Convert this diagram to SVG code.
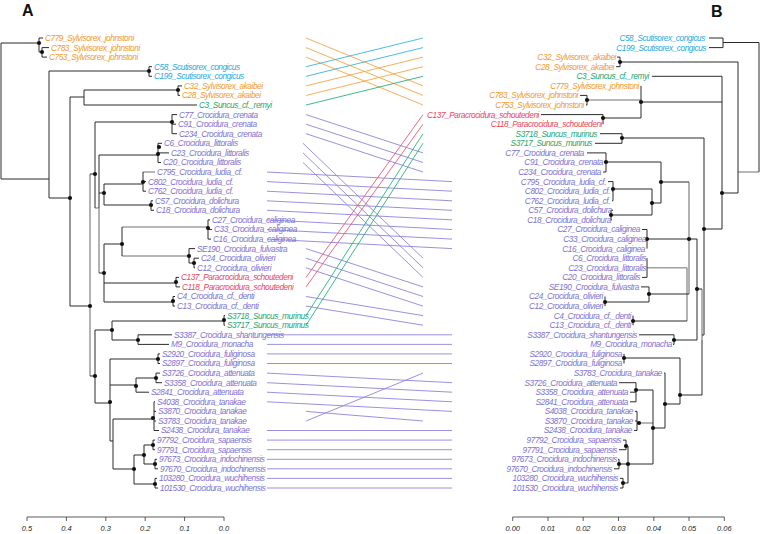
<svg xmlns="http://www.w3.org/2000/svg" width="760" height="534" viewBox="0 0 760 534">
<defs>
<style>
text{font-family:"Liberation Sans","DejaVu Sans",sans-serif;font-style:italic;font-size:8.3px;letter-spacing:-0.45px}
.r text{text-anchor:end}
.o{fill:#F39A2E}.c{fill:#29A9DF}.gr{fill:#1EA672}.rd{fill:#EC4560}.p{fill:#7E72D2}
.tl{fill:none;stroke:#2b2b2b;stroke-width:1}
.tg{fill:none;stroke:#a0a0a0;stroke-width:1.6}
.dot{fill:#111}
.lk{stroke-width:0.9;fill:none}
.lo{stroke:#F5A54A}.lc{stroke:#3AB3E4}.lgr{stroke:#2CB07C}.lr{stroke:#EE5870}.lp{stroke:#8E84DA}
.ax{fill:none;stroke:#333;stroke-width:0.8}
.axt{font-size:7.5px;letter-spacing:0;text-anchor:middle;fill:#222}
.pl{font-style:normal;font-weight:bold;font-size:16px;letter-spacing:0;fill:#111}
</style>
</defs>
<rect width="760" height="534" fill="#fff"/>
<text class="pl" x="22" y="16">A</text>
<text class="pl" x="711" y="17">B</text>

<g id="connectors">
<line class="lk lo" x1="306" y1="38" x2="423" y2="85.9"/>
<line class="lk lo" x1="306" y1="47.6" x2="423" y2="95.4"/>
<line class="lk lo" x1="306" y1="57.1" x2="423" y2="105"/>
<line class="lk lc" x1="306" y1="66.7" x2="423" y2="38"/>
<line class="lk lc" x1="306" y1="76.3" x2="423" y2="47.6"/>
<line class="lk lo" x1="306" y1="85.9" x2="423" y2="57.1"/>
<line class="lk lo" x1="306" y1="95.4" x2="423" y2="66.7"/>
<line class="lk lgr" x1="306" y1="105" x2="423" y2="76.3"/>
<line class="lk lp" x1="306" y1="114.6" x2="423" y2="152.9"/>
<line class="lk lp" x1="306" y1="124.2" x2="423" y2="162.5"/>
<line class="lk lp" x1="306" y1="133.7" x2="423" y2="172"/>
<line class="lk lp" x1="303" y1="143.3" x2="423" y2="258.2"/>
<line class="lk lp" x1="303" y1="152.9" x2="423" y2="267.8"/>
<line class="lk lp" x1="303" y1="162.5" x2="423" y2="277.4"/>
<line class="lk lp" x1="267" y1="172" x2="452" y2="181.6"/>
<line class="lk lp" x1="267" y1="181.6" x2="452" y2="191.2"/>
<line class="lk lp" x1="267" y1="191.2" x2="452" y2="200.8"/>
<line class="lk lp" x1="267" y1="200.8" x2="452" y2="210.3"/>
<line class="lk lp" x1="267" y1="210.3" x2="452" y2="219.9"/>
<line class="lk lp" x1="267" y1="219.9" x2="452" y2="229.5"/>
<line class="lk lp" x1="267" y1="229.5" x2="452" y2="239.1"/>
<line class="lk lp" x1="267" y1="239.1" x2="452" y2="248.6"/>
<line class="lk lp" x1="306" y1="248.6" x2="423" y2="286.9"/>
<line class="lk lp" x1="306" y1="258.2" x2="423" y2="296.5"/>
<line class="lk lp" x1="306" y1="267.8" x2="423" y2="306.1"/>
<line class="lk lr" x1="306" y1="277.4" x2="423" y2="114.6"/>
<line class="lk lr" x1="306" y1="286.9" x2="423" y2="124.2"/>
<line class="lk lp" x1="306" y1="296.5" x2="423" y2="315.6"/>
<line class="lk lp" x1="306" y1="306.1" x2="423" y2="325.2"/>
<line class="lk lgr" x1="306" y1="315.6" x2="423" y2="133.7"/>
<line class="lk lgr" x1="306" y1="325.2" x2="423" y2="143.3"/>
<line class="lk lp" x1="267" y1="334.8" x2="452" y2="334.8"/>
<line class="lk lp" x1="267" y1="344.4" x2="452" y2="344.4"/>
<line class="lk lp" x1="267" y1="353.9" x2="452" y2="353.9"/>
<line class="lk lp" x1="267" y1="363.5" x2="452" y2="363.5"/>
<line class="lk lp" x1="267" y1="373.1" x2="452" y2="382.7"/>
<line class="lk lp" x1="267" y1="382.7" x2="452" y2="392.2"/>
<line class="lk lp" x1="267" y1="392.2" x2="452" y2="401.8"/>
<line class="lk lp" x1="267" y1="401.8" x2="452" y2="411.4"/>
<line class="lk lp" x1="306" y1="411.4" x2="423" y2="421"/>
<line class="lk lp" x1="306" y1="421" x2="423" y2="373.1"/>
<line class="lk lp" x1="267" y1="430.5" x2="452" y2="430.5"/>
<line class="lk lp" x1="267" y1="440.1" x2="452" y2="440.1"/>
<line class="lk lp" x1="267" y1="449.7" x2="452" y2="449.7"/>
<line class="lk lp" x1="267" y1="459.3" x2="452" y2="459.3"/>
<line class="lk lp" x1="267" y1="468.8" x2="452" y2="468.8"/>
<line class="lk lp" x1="267" y1="478.4" x2="452" y2="478.4"/>
<line class="lk lp" x1="267" y1="488" x2="452" y2="488"/>
</g>

<g id="tree-left">
<path class="tg" d="M90,174V376M95,208H99M99,208V273M122,227H208M122,256H189M143,172H155"/>
<path class="tl" d="M1,43V179M1,43H39M1,179H49M49,71V198M49,71H149M49,198H70M70,97V306M70,97H84M84,90V105M84,90H178M84,105H197M70,306H90M90,174H95M95,122V208M95,122H172M99,155V208M99,155H158M99,193H104M104,184V205M104,184H143M104,205H151M99,273H104M104,244V302M104,244H122M122,227V256M104,283H176M104,302H173M90,376H95M95,330V403M95,330H112M112,321V340M112,321H224M112,340H138M95,403H110M110,359V441M110,359H158M110,385H136M136,378V392.2M136,378H156M136,392.2H149M110,441H113M113,419V469M113,419H154M113,469H134M134,455V484M134,455H144M144,445V464M144,445H153M144,464H155M134,484H155
M39,38V52M39,38H43M39,52H42M42,47.6V57.1M42,47.6H49M42,57.1H47
M149,66.7V76.3M149,66.7H152M149,76.3H152
M178,85.9V95.4M178,85.9H182M178,95.4H180
M172,114.6V133.7M172,114.6H177M172,124.2H176M172,133.7H177
M158,143.3V162.5M158,143.3H162M158,152.9H169M158,162.5H161
M143,172V191.2M143,181.6H146M143,191.2H146
M151,200.8V210.3M151,200.8H153M151,210.3H154
M208,219.9V239.1M208,219.9H210M208,229.5H212M208,239.1H211
M189,248.6V263M189,248.6H195M189,263H194M194,258.2V267.8M194,258.2H199M194,267.8H195
M176,277.4V286.9M176,277.4H179M176,286.9H180
M173,296.5V306.1M173,296.5H175M173,306.1H175
M224,315.6V325.2M224,315.6H225M224,325.2H225
M138,334.8V344.4M138,334.8H172M138,344.4H169
M158,353.9V363.5M158,353.9H160M158,363.5H160
M156,373.1V382.7M156,373.1H160M156,382.7H162
M154,401.8V430.5M154,401.8H155M154,411.4H156M154,421H156M154,430.5H159
M153,440.1V449.7M153,440.1H155M153,449.7H155
M155,459.3V468.8M155,459.3H157M155,468.8H158
M155,478.4V488M155,478.4H157M155,488H158"/>
<g class="dot">
<circle cx="39" cy="43" r="2.1"/><circle cx="42" cy="52" r="2.1"/><circle cx="149" cy="71" r="2.1"/><circle cx="178" cy="90" r="2.1"/><circle cx="70" cy="198" r="2.1"/><circle cx="172" cy="122" r="2.1"/><circle cx="159" cy="147" r="2.1"/><circle cx="158" cy="154" r="2.1"/><circle cx="95" cy="174" r="2.1"/><circle cx="143" cy="182" r="2.1"/><circle cx="104" cy="193" r="2.1"/><circle cx="151" cy="205" r="2.1"/><circle cx="208" cy="228" r="2.1"/><circle cx="122" cy="244" r="2.1"/><circle cx="189" cy="256" r="2.1"/><circle cx="194" cy="263" r="2.1"/><circle cx="104" cy="273" r="2.1"/><circle cx="176" cy="282" r="2.1"/><circle cx="173" cy="301" r="2.1"/><circle cx="90" cy="306" r="2.1"/><circle cx="224" cy="320" r="2.1"/><circle cx="112" cy="330" r="2.1"/><circle cx="138" cy="340" r="2.1"/><circle cx="95" cy="376" r="2.1"/><circle cx="158" cy="359" r="2.1"/><circle cx="156" cy="378" r="2.1"/><circle cx="136" cy="386" r="2.1"/><circle cx="110" cy="402" r="2.1"/><circle cx="153" cy="418" r="2.1"/><circle cx="153" cy="445" r="2.1"/><circle cx="144" cy="455" r="2.1"/><circle cx="155" cy="464" r="2.1"/><circle cx="134" cy="469" r="2.1"/><circle cx="155" cy="484" r="2.1"/>
</g>
</g>

<g id="tree-right">
<path class="tg" d="M738,172H759M587,100H641M689,182V294M647,267.8H687M687,267.8V321M702,289V340M637,423H653"/>
<path class="tl" d="M709,38H723M709,47.6H723M723,38V47.6M723,42.5H759M759,42.5V172
M617,57.1H620M616,66.7H620M620,57.1V66.7M620,62H738M738,62V193M722,193H738
M722,76.3V229M652,76.3H722M641,102H722M641,85.9V118M587,95.4V105M580,95.4H587M586,105H587M603,118H641M603,114.6V124.2M541,114.6H603
M704,229H722M704,138V335M622,138H704M622,133.7V143.3M600,133.7H622M595,143.3H622
M702,335H704M702,340V395M697,289H702M697,239V340M647,239H697M661,182H689M661,162V203M606,162H661M652,203H661M652,189V215M613,189H652M611,215H652
M606,152.9V172M587,152.9H606M604,162.5H606M603,172H606
M613,181.6V200.8M608,181.6H613M612,191.2H613M612,200.8H613
M611,210.3V219.9M613,210.3H611M612,219.9H611
M647,229.5V248.6M642,229.5H647
M647,258.2V277.4M642,277.4H647
M641,286.9H649M649,286.9V302M649,294H689M605,302H649M605,296.5V306.1
M633,315.6V325.2M633,321H687
M639,334.8H674M673,344.4H674M674,334.8V344.4M674,340H697
M624,353.9V363.5M624,358H680M680,358V404M680,395H702
M664,373.1H665M665,373.1V428M665,404H680M653,428H665M653,390V464
M619,382.7H636M630,392.2H636M630,401.8H636M636,382.7V401.8M636,390H653
M635,411.4H637M635,421H637M634,430.5H637M637,411.4V430.5
M623,440.1H626M619,449.7H626M626,440.1V449.7M626,446H628
M618,459.3H619M614,468.8H619M619,459.3V468.8M619,464H628
M620,478.4H623M620,488H623M623,478.4V488M623,483H628
M628,446V483M628,464H653"/>
<g class="dot">
<circle cx="620" cy="62" r="2.1"/><circle cx="722" cy="193" r="2.1"/><circle cx="641" cy="102" r="2.1"/><circle cx="587" cy="100" r="2.1"/><circle cx="603" cy="118" r="2.1"/><circle cx="622" cy="138" r="2.1"/><circle cx="704" cy="229" r="2.1"/><circle cx="606" cy="162" r="2.1"/><circle cx="613" cy="189" r="2.1"/><circle cx="611" cy="215" r="2.1"/><circle cx="652" cy="203" r="2.1"/><circle cx="661" cy="182" r="2.1"/><circle cx="647" cy="239" r="2.1"/><circle cx="689" cy="239" r="2.1"/><circle cx="649" cy="294" r="2.1"/><circle cx="605" cy="302" r="2.1"/><circle cx="633" cy="321" r="2.1"/><circle cx="697" cy="289" r="2.1"/><circle cx="674" cy="340" r="2.1"/><circle cx="624" cy="358" r="2.1"/><circle cx="680" cy="395" r="2.1"/><circle cx="665" cy="404" r="2.1"/><circle cx="636" cy="390" r="2.1"/><circle cx="639" cy="423" r="2.1"/><circle cx="653" cy="428" r="2.1"/><circle cx="626" cy="446" r="2.1"/><circle cx="619" cy="464" r="2.1"/><circle cx="623" cy="483" r="2.1"/><circle cx="628" cy="464" r="2.1"/>
</g>
</g>

<g id="labels-left">
<text id="L-C779" class="o" x="45" y="40.9">C779_Sylvisorex_johnstoni</text>
<text id="L-C783" class="o" x="51" y="50.5">C783_Sylvisorex_johnstoni</text>
<text id="L-C753" class="o" x="49" y="60">C753_Sylvisorex_johnstoni</text>
<text id="L-C58" class="c" x="154" y="69.6">C58_Scutisorex_congicus</text>
<text id="L-C199" class="c" x="154" y="79.2">C199_Scutisorex_congicus</text>
<text id="L-C32" class="o" x="184" y="88.8">C32_Sylvisorex_akaibei</text>
<text id="L-C28" class="o" x="182" y="98.3">C28_Sylvisorex_akaibei</text>
<text id="L-C3" class="gr" x="199" y="107.9">C3_Suncus_cf._remyi</text>
<text id="L-C77" class="p" x="179" y="117.5">C77_Crocidura_crenata</text>
<text id="L-C91" class="p" x="178" y="127.1">C91_Crocidura_crenata</text>
<text id="L-C234" class="p" x="179" y="136.6">C234_Crocidura_crenata</text>
<text id="L-C6" class="p" x="164" y="146.2">C6_Crocidura_littoralis</text>
<text id="L-C23" class="p" x="171" y="155.8">C23_Crocidura_littoralis</text>
<text id="L-C20" class="p" x="163" y="165.4">C20_Crocidura_littoralis</text>
<text id="L-C795" class="p" x="157" y="174.9">C795_Crocidura_ludia_cf.</text>
<text id="L-C802" class="p" x="148" y="184.5">C802_Crocidura_ludia_cf.</text>
<text id="L-C762" class="p" x="148" y="194.1">C762_Crocidura_ludia_cf.</text>
<text id="L-C57" class="p" x="155" y="203.7">C57_Crocidura_dolichura</text>
<text id="L-C18" class="p" x="156" y="213.2">C18_Crocidura_dolichura</text>
<text id="L-C27" class="p" x="212" y="222.8">C27_Crocidura_caliginea</text>
<text id="L-C33" class="p" x="214" y="232.4">C33_Crocidura_caliginea</text>
<text id="L-C16" class="p" x="213" y="242">C16_Crocidura_caliginea</text>
<text id="L-SE190" class="p" x="197" y="251.5">SE190_Crocidura_fulvastra</text>
<text id="L-C24" class="p" x="201" y="261.1">C24_Crocidura_olivieri</text>
<text id="L-C12" class="p" x="197" y="270.7">C12_Crocidura_olivieri</text>
<text id="L-C137" class="rd" x="181" y="280.3">C137_Paracrocidura_schoutedeni</text>
<text id="L-C118" class="rd" x="182" y="289.8">C118_Paracrocidura_schoutedeni</text>
<text id="L-C4" class="p" x="177" y="299.4">C4_Crocidura_cf._denti</text>
<text id="L-C13" class="p" x="177" y="309">C13_Crocidura_cf._denti</text>
<text id="L-S3718" class="gr" x="227" y="318.5">S3718_Suncus_murinus</text>
<text id="L-S3717" class="gr" x="227" y="328.1">S3717_Suncus_murinus</text>
<text id="L-S3387" class="p" x="174" y="337.7">S3387_Crocidura_shantungensis</text>
<text id="L-M9" class="p" x="171" y="347.3">M9_Crocidura_monacha</text>
<text id="L-S2920" class="p" x="162" y="356.8">S2920_Crocidura_fuliginosa</text>
<text id="L-S2897" class="p" x="162" y="366.4">S2897_Crocidura_fuliginosa</text>
<text id="L-S3726" class="p" x="162" y="376">S3726_Crocidura_attenuata</text>
<text id="L-S3358" class="p" x="164" y="385.6">S3358_Crocidura_attenuata</text>
<text id="L-S2841" class="p" x="151" y="395.1">S2841_Crocidura_attenuata</text>
<text id="L-S4038" class="p" x="157" y="404.7">S4038_Crocidura_tanakae</text>
<text id="L-S3870" class="p" x="158" y="414.3">S3870_Crocidura_tanakae</text>
<text id="L-S3783" class="p" x="158" y="423.9">S3783_Crocidura_tanakae</text>
<text id="L-S2438" class="p" x="161" y="433.4">S2438_Crocidura_tanakae</text>
<text id="L-97792" class="p" x="157" y="443">97792_Crocidura_sapaensis</text>
<text id="L-97791" class="p" x="157" y="452.6">97791_Crocidura_sapaensis</text>
<text id="L-97673" class="p" x="159" y="462.2">97673_Crocidura_indochinensis</text>
<text id="L-97670" class="p" x="160" y="471.7">97670_Crocidura_indochinensis</text>
<text id="L-103280" class="p" x="159" y="481.3">103280_Crocidura_wuchihensis</text>
<text id="L-101530" class="p" x="160" y="490.9">101530_Crocidura_wuchihensis</text>
</g>

<g id="labels-right" class="r">
<text id="R-C58" class="c" x="705" y="40.9">C58_Scutisorex_congicus</text>
<text id="R-C199" class="c" x="706" y="50.5">C199_Scutisorex_congicus</text>
<text id="R-C32" class="o" x="616" y="60">C32_Sylvisorex_akaibei</text>
<text id="R-C28" class="o" x="614" y="69.6">C28_Sylvisorex_akaibei</text>
<text id="R-C3" class="gr" x="649" y="79.2">C3_Suncus_cf._remyi</text>
<text id="R-C779" class="o" x="639" y="88.8">C779_Sylvisorex_johnstoni</text>
<text id="R-C783" class="o" x="578" y="98.3">C783_Sylvisorex_johnstoni</text>
<text id="R-C753" class="o" x="584" y="107.9">C753_Sylvisorex_johnstoni</text>
<text id="R-C137" class="rd" x="539" y="117.5">C137_Paracrocidura_schoutedeni</text>
<text id="R-C118" class="rd" x="602" y="127.1">C118_Paracrocidura_schoutedeni</text>
<text id="R-S3718" class="gr" x="597" y="136.6">S3718_Suncus_murinus</text>
<text id="R-S3717" class="gr" x="592" y="146.2">S3717_Suncus_murinus</text>
<text id="R-C77" class="p" x="584" y="155.8">C77_Crocidura_crenata</text>
<text id="R-C91" class="p" x="603" y="165.4">C91_Crocidura_crenata</text>
<text id="R-C234" class="p" x="601" y="174.9">C234_Crocidura_crenata</text>
<text id="R-C795" class="p" x="606" y="184.5">C795_Crocidura_ludia_cf.</text>
<text id="R-C802" class="p" x="610" y="194.1">C802_Crocidura_ludia_cf.</text>
<text id="R-C762" class="p" x="610" y="203.7">C762_Crocidura_ludia_cf.</text>
<text id="R-C57" class="p" x="612" y="213.2">C57_Crocidura_dolichura</text>
<text id="R-C18" class="p" x="611" y="222.8">C18_Crocidura_dolichura</text>
<text id="R-C27" class="p" x="640" y="232.4">C27_Crocidura_caliginea</text>
<text id="R-C33" class="p" x="646" y="242">C33_Crocidura_caliginea</text>
<text id="R-C16" class="p" x="645" y="251.5">C16_Crocidura_caliginea</text>
<text id="R-C6" class="p" x="646" y="261.1">C6_Crocidura_littoralis</text>
<text id="R-C23" class="p" x="646" y="270.7">C23_Crocidura_littoralis</text>
<text id="R-C20" class="p" x="640" y="280.3">C20_Crocidura_littoralis</text>
<text id="R-SE190" class="p" x="639" y="289.8">SE190_Crocidura_fulvastra</text>
<text id="R-C24" class="p" x="603" y="299.4">C24_Crocidura_olivieri</text>
<text id="R-C12" class="p" x="603" y="309">C12_Crocidura_olivieri</text>
<text id="R-C4" class="p" x="631" y="318.5">C4_Crocidura_cf._denti</text>
<text id="R-C13" class="p" x="631" y="328.1">C13_Crocidura_cf._denti</text>
<text id="R-S3387" class="p" x="637" y="337.7">S3387_Crocidura_shantungensis</text>
<text id="R-M9" class="p" x="672" y="347.3">M9_Crocidura_monacha</text>
<text id="R-S2920" class="p" x="622" y="356.8">S2920_Crocidura_fuliginosa</text>
<text id="R-S2897" class="p" x="622" y="366.4">S2897_Crocidura_fuliginosa</text>
<text id="R-S3783" class="p" x="662" y="376">S3783_Crocidura_tanakae</text>
<text id="R-S3726" class="p" x="617" y="385.6">S3726_Crocidura_attenuata</text>
<text id="R-S3358" class="p" x="628" y="395.1">S3358_Crocidura_attenuata</text>
<text id="R-S2841" class="p" x="628" y="404.7">S2841_Crocidura_attenuata</text>
<text id="R-S4038" class="p" x="633" y="414.3">S4038_Crocidura_tanakae</text>
<text id="R-S3870" class="p" x="633" y="423.9">S3870_Crocidura_tanakae</text>
<text id="R-S2438" class="p" x="632" y="433.4">S2438_Crocidura_tanakae</text>
<text id="R-97792" class="p" x="621" y="443">97792_Crocidura_sapaensis</text>
<text id="R-97791" class="p" x="617" y="452.6">97791_Crocidura_sapaensis</text>
<text id="R-97673" class="p" x="617" y="462.2">97673_Crocidura_indochinensis</text>
<text id="R-97670" class="p" x="612" y="471.7">97670_Crocidura_indochinensis</text>
<text id="R-103280" class="p" x="618" y="481.3">103280_Crocidura_wuchihensis</text>
<text id="R-101530" class="p" x="618" y="490.9">101530_Crocidura_wuchihensis</text>
</g>

<g id="axis-left">
<path class="ax" d="M27,517H224M27,517V521M66.4,517V521M105.8,517V521M145.2,517V521M184.6,517V521M224,517V521"/>
<text class="axt" x="27" y="531">0.5</text><text class="axt" x="66.4" y="531">0.4</text><text class="axt" x="105.8" y="531">0.3</text><text class="axt" x="145.2" y="531">0.2</text><text class="axt" x="184.6" y="531">0.1</text><text class="axt" x="224" y="531">0.0</text>
</g>
<g id="axis-right">
<path class="ax" d="M512.7,517H724.3M512.7,517V521M548,517V521M583.2,517V521M618.5,517V521M653.8,517V521M689,517V521M724.3,517V521"/>
<text class="axt" x="512.7" y="531">0.00</text><text class="axt" x="548" y="531">0.01</text><text class="axt" x="583.2" y="531">0.02</text><text class="axt" x="618.5" y="531">0.03</text><text class="axt" x="653.8" y="531">0.04</text><text class="axt" x="689" y="531">0.05</text><text class="axt" x="724.3" y="531">0.06</text>
</g>
</svg>
